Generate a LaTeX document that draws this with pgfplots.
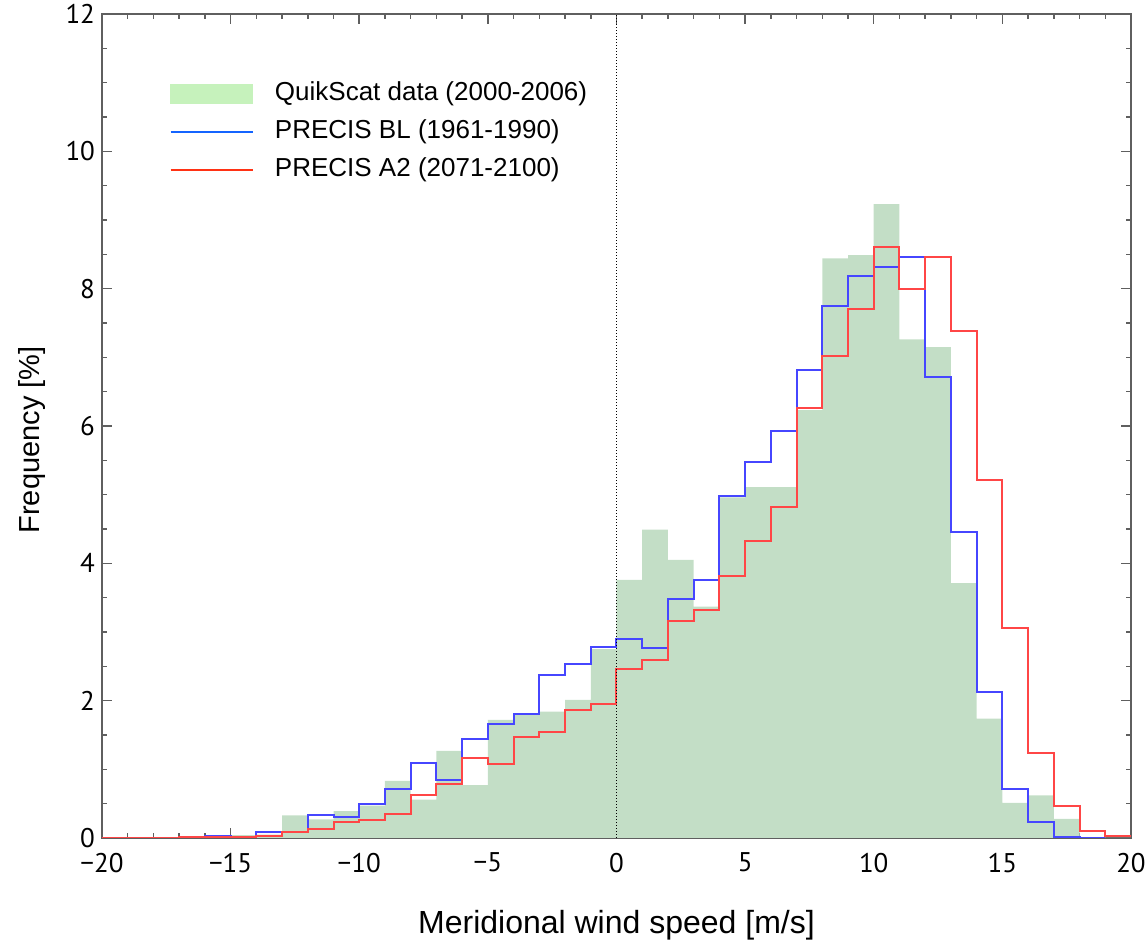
\documentclass[border=0pt]{standalone}
\usepackage{fontspec}
\setmainfont{Liberation Sans}
\newfontfamily\tickfont{PT Sans}
\usepackage{pgfplots}
\pgfplotsset{compat=1.18}
\definecolor{qsbar}{RGB}{195,222,198}
\definecolor{qsleg}{RGB}{198,242,188}
\definecolor{blline}{RGB}{70,70,255}
\definecolor{a2line}{RGB}{255,70,70}
\definecolor{blleg}{RGB}{20,100,255}
\definecolor{a2leg}{RGB}{255,50,20}
\definecolor{axgray}{RGB}{95,95,95}
\begin{document}
\begin{tikzpicture}
\begin{axis}[
  at={(0,0)}, anchor=south west,
  scale only axis, width=514.5pt, height=412pt,
  xmin=-20, xmax=20, ymin=0, ymax=12,
  xtick={-20,-15,...,20},
  xticklabels={−20,−15,−10,−5,0,5,10,15,20},
  ytick={0,2,...,12},
  minor x tick num=4, minor y tick num=3,
  tick align=inside,
  major tick length=5pt, minor tick length=2.7pt,
  axis line style={axgray, line width=0.75pt},
  every tick/.style={axgray, line width=0.75pt},
  tick label style={font=\tickfont\fontsize{13.5}{15}\selectfont},
  /pgf/number format/assume math mode=true,
  xticklabel style={yshift=-4pt},
  xlabel={Meridional wind speed [m/s]},
  ylabel={Frequency [\%]},
  xlabel style={at={(axis description cs:0.5,-0.106)}, anchor=center, font=\fontsize{16}{18}\selectfont},
  ylabel style={at={(axis description cs:-0.068,0.483)}, anchor=center, font=\fontsize{14.5}{16}\selectfont},
  legend style={at={(axis description cs:0.0651,0.918)}, anchor=north west,
    draw=none, fill=none, inner sep=0pt,
    font=\fontsize{13}{15}\selectfont,
    nodes={inner sep=0pt, text height=9.3pt, text depth=2.7pt},
    row sep=7pt, column sep=10.5pt},
  legend cell align=left,
]
\addplot[const plot mark left, fill=qsbar, draw=none, forget plot] coordinates {
(-20,0) (-19,0) (-18,0) (-17,0) (-16,0.01) (-15,0.04) (-14,0.05) (-13,0.33)
(-12,0.27) (-11,0.39) (-10,0.47) (-9,0.83) (-8,0.56) (-7,1.27) (-6,0.77)
(-5,1.72) (-4,1.82) (-3,1.84) (-2,2.01) (-1,2.75) (0,3.76) (1,4.49) (2,4.05)
(3,3.37) (4,4.96) (5,5.11) (6,5.11) (7,6.23) (8,8.44) (9,8.49) (10,9.23)
(11,7.26) (12,7.15) (13,3.71) (14,1.74) (15,0.51) (16,0.62) (17,0.28)
(18,0.01) (19,0) (20,0)} \closedcycle;
\addplot[const plot mark left, blline, line width=1pt, forget plot] coordinates {
(-17,0.01) (-16,0.03) (-15,0.01) (-14,0.08) (-13,0.08) (-12,0.33) (-11,0.31)
(-10,0.49) (-9,0.71) (-8,1.09) (-7,0.84) (-6,1.44) (-5,1.66) (-4,1.80)
(-3,2.37) (-2,2.54) (-1,2.78) (0,2.90) (1,2.76) (2,3.48) (3,3.76) (4,4.98)
(5,5.48) (6,5.93) (7,6.81) (8,7.75) (9,8.18) (10,8.32) (11,8.46) (12,6.71)
(13,4.45) (14,2.12) (15,0.72) (16,0.23) (17,0.02) (18,0.0) (19,0.0)};
\addplot[const plot mark left, a2line, line width=1pt, forget plot] coordinates {
(-20,0) (-19,0) (-18,0) (-17,0.02) (-16,0.01) (-15,0.02) (-14,0.03) (-13,0.08)
(-12,0.13) (-11,0.24) (-10,0.26) (-9,0.35) (-8,0.63) (-7,0.78) (-6,1.16)
(-5,1.08) (-4,1.47) (-3,1.54) (-2,1.86) (-1,1.95) (0,2.46) (1,2.59) (2,3.16)
(3,3.32) (4,3.82) (5,4.33) (6,4.82) (7,6.26) (8,7.02) (9,7.71) (10,8.61)
(11,7.99) (12,8.46) (13,7.39) (14,5.21) (15,3.06) (16,1.24) (17,0.47)
(18,0.10) (19,0.03) (20,0.03)};
\addplot[black, line width=0.85pt, dash pattern=on 0.7pt off 0.8pt, forget plot] coordinates {(0,0) (0,12)};
\addlegendimage{legend image code/.code={\fill[qsleg] (0pt,-4.75pt) rectangle (41pt,4.75pt);}}
\addlegendentry{QuikScat data (2000-2006)}
\addlegendimage{legend image code/.code={\draw[blleg, line width=1.3pt] (0pt,0pt) -- (41pt,0pt);}}
\addlegendentry{PRECIS BL (1961-1990)}
\addlegendimage{legend image code/.code={\draw[a2leg, line width=1.3pt] (0pt,0pt) -- (41pt,0pt);}}
\addlegendentry{PRECIS A2 (2071-2100)}
\end{axis}
\pgfresetboundingbox
\path[use as bounding box] (-51pt,-54pt) rectangle (523pt,419pt);
\end{tikzpicture}
\end{document}
